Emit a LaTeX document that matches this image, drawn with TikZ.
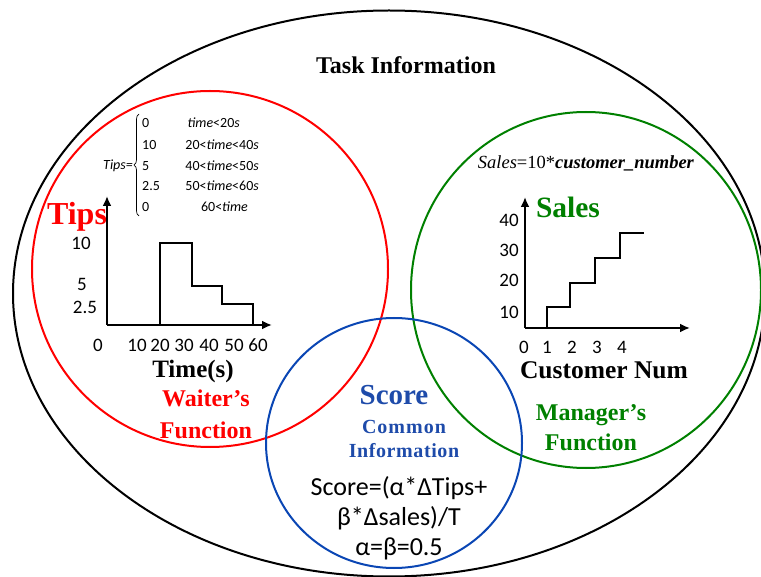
\documentclass[tikz,border=0pt]{standalone}
\usepackage{fontspec}
\setmainfont{Liberation Serif}
\newfontfamily\calib{Carlito}
\usetikzlibrary{arrows.meta,decorations.pathreplacing}
\definecolor{cred}{RGB}{255,0,0}
\definecolor{cgreen}{RGB}{0,128,0}
\definecolor{cblue}{RGB}{10,70,180}
\definecolor{cbluet}{RGB}{30,75,170}
\tikzset{
  ring/.style={line width=2pt},
  axisline/.style={line width=2.8pt,-{Latex[length=10pt,width=9pt]}},
  stepline/.style={line width=2.8pt},
  ticklbl/.style={font=\calib\fontsize{19}{21}\selectfont,inner sep=0pt},
  formula/.style={font=\calib\itshape\fontsize{14}{15}\selectfont,inner sep=0pt},
  formulaval/.style={font=\calib\fontsize{14}{15}\selectfont,inner sep=0pt,anchor=west},
  titlebold/.style={font=\bfseries\fontsize{#1}{#1}\selectfont,inner sep=0pt},
}
\begin{document}
\begin{tikzpicture}[x=1pt,y=-1pt]
\useasboundingbox (0,0) rectangle (761,577);
% circles
\draw[ring,black] (389,293.5) ellipse [x radius=376, y radius=283];
\draw[ring,cred] (210,269) circle [radius=178];
\draw[ring,cgreen] (586,290) ellipse [x radius=175, y radius=178];
\draw[ring,cblue] (394,443) ellipse [x radius=128, y radius=125];

% title
\node[titlebold=24] (task) at (406,65) {Task Information};

% tips formula
\node[formula,anchor=east] (tipseq) at (133,166) {Tips=};
\draw[line width=0.7pt,decorate,decoration={brace,amplitude=5pt}] (139,216) -- (139,114);
\node[formulaval] (v1) at (142,123) {0};
\node[formulaval] (v2) at (142,145) {10};
\node[formulaval] (v3) at (142,166) {5};
\node[formulaval] (v4) at (142,186) {2.5};
\node[formulaval] (v5) at (142,207) {0};
\node[formula,anchor=east] (c1) at (240,123) {time{\upshape<20}s};
\node[formula,anchor=east] (c2) at (259,145) {{\upshape20<}time{\upshape<40}s};
\node[formula,anchor=east] (c3) at (259,166) {{\upshape40<}time{\upshape<50}s};
\node[formula,anchor=east] (c4) at (259,186) {{\upshape50<}time{\upshape<60}s};
\node[formula,anchor=east] (c5) at (248,207) {{\upshape60<}time};

% tips graph
\node[titlebold=32,text=cred] (tipslbl) at (77,217) {Tips};
\coordinate (to) at (107,325);
\coordinate (ty) at (107,196);
\coordinate (tx) at (272,325);
\draw[axisline] (to) -- (ty);
\draw[axisline] (to) -- (tx);
\draw[stepline,line join=miter] (160,325) -- (160,243) -- (192,243) -- (192,286) -- (222,286) -- (222,304) -- (253,304) -- (253,325);
\node[ticklbl] (t10) at (81,243) {10};
\node[ticklbl] (t5) at (82,284) {5};
\node[ticklbl] (t25) at (85,307) {2.5};
\node[ticklbl] (x0) at (98,345) {0};
\node[ticklbl] (x10) at (137,345) {10};
\node[ticklbl] (x20) at (160,345) {20};
\node[ticklbl] (x30) at (184,345) {30};
\node[ticklbl] (x40) at (209,345) {40};
\node[ticklbl] (x50) at (234,345) {50};
\node[ticklbl] (x60) at (258,345) {60};
\node[titlebold=25] (timelbl) at (193,371) {Time(s)};
\node[titlebold=24,text=cred,align=center] (waiter) at (206,414) {Waiter's\\[8pt]Function};

% sales formula
\node[inner sep=0pt,font=\fontsize{18.5}{20}\selectfont] (saleseq) at (586,163) {\textit{Sales}=10*\textbf{\textit{customer\_number}}};

% sales graph
\coordinate (so) at (525,328);
\coordinate (sy) at (525,197);
\coordinate (sx) at (690,328);
\draw[axisline] (so) -- (sy);
\draw[axisline] (so) -- (sx);
\draw[stepline,line join=miter] (547,328) -- (547,307) -- (570,307) -- (570,283) -- (595,283) -- (595,258) -- (620,258) -- (620,233) -- (644,233);
\node[titlebold=29.5,text=cgreen] (saleslbl) at (568,207) {Sales};
\node[ticklbl] (s40) at (509,220) {40};
\node[ticklbl] (s30) at (509,250) {30};
\node[ticklbl] (s20) at (509,280) {20};
\node[ticklbl] (s10) at (509,312) {10};
\node[ticklbl] (n0) at (524,347) {0};
\node[ticklbl] (n1) at (547,347) {1};
\node[ticklbl] (n2) at (572,347) {2};
\node[ticklbl] (n3) at (597,347) {3};
\node[ticklbl] (n4) at (622,347) {4};
\node[titlebold=25.5] (custlbl) at (604,370) {Customer Num};
\node[titlebold=24,text=cgreen,align=center] (manager) at (591,428) {Manager's\\[6pt]Function};

% score
\node[titlebold=29,text=cbluet] (score) at (394,395) {Score};
\node[titlebold=20,text=cbluet,align=center] (common) at (404,439) {\addfontfeature{LetterSpace=5}Common\\[4pt]\addfontfeature{LetterSpace=3}Information};
\node[inner sep=0pt,font=\calib\fontsize{26}{30}\selectfont,align=center] (scoreeq) at (399,518) {Score=(α*ΔTips+\\β*Δsales)/T\\α=β=0.5};
\end{tikzpicture}
\end{document}
